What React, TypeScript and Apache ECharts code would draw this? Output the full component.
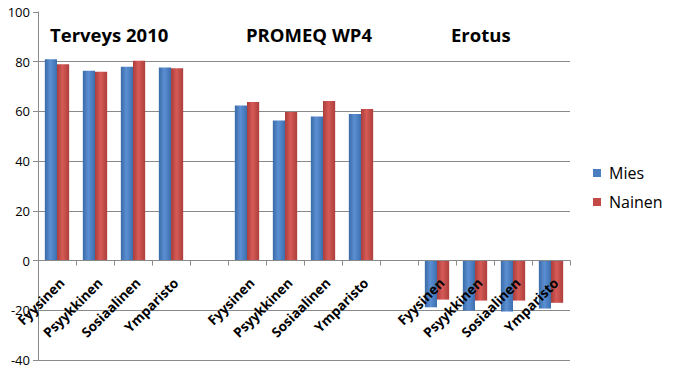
import React, { useEffect, useRef } from "react";
import * as echarts from "echarts";

const categories = ["Fyysinen", "Psyykkinen", "Sosiaalinen", "Ymparisto"];
const groupTitles = ["Terveys 2010", "PROMEQ WP4", "Erotus"];
const seriesNames = ["Mies", "Nainen"];
const terveysMies = [81, 76.4, 78, 77.7];
const terveysNainen = [79, 76, 80.4, 77.4];
const promeqMies = [62.4, 56.4, 58, 59];
const promeqNainen = [63.8, 59.8, 64.2, 61];
const erotusMies = [-18.8, -20.1, -20.5, -19.3];
const erotusNainen = [-15.7, -16.1, -16.1, -17];
const yTicks = [-40, -20, 0, 20, 40, 60, 80, 100];

const FONT = "'Open Sans', 'Noto Sans', sans-serif";
const GRID_TOP = 12;
const GRID_BOTTOM = 14;
const CHART_H = 374;

function joinGroups(groups: (number | string | null)[][], blank: number | string | null) {
  const out: (number | string | null)[] = [];
  groups.forEach((g, i) => {
    if (i > 0) out.push(blank);
    out.push(...g);
  });
  return out;
}

export default function App() {
  const ref = useRef<HTMLDivElement>(null);
  useEffect(() => {
    if (!ref.current) return;
    const chart = echarts.init(ref.current, undefined, { renderer: "svg" });
    const xData = joinGroups([categories, categories, categories], "");
    const miesData = joinGroups([terveysMies, promeqMies, erotusMies], null);
    const nainenData = joinGroups([terveysNainen, promeqNainen, erotusNainen], null);
    const yMin = yTicks[0];
    const yMax = yTicks[yTicks.length - 1];
    const plotH = CHART_H - GRID_TOP - GRID_BOTTOM;
    const zeroOffset = -((0 - yMin) / (yMax - yMin)) * plotH;
    const blueGrad = new echarts.graphic.LinearGradient(0, 0, 1, 0, [
      { offset: 0, color: "#3a6aa6" },
      { offset: 0.45, color: "#5b8fd3" },
      { offset: 1, color: "#3d6fae" },
    ]);
    const redGrad = new echarts.graphic.LinearGradient(0, 0, 1, 0, [
      { offset: 0, color: "#a83d3a" },
      { offset: 0.45, color: "#d65a56" },
      { offset: 1, color: "#ad3f3c" },
    ]);
    const gray = "#8a8a8a";
    const lineColors = yTicks.map((v, i) => (i === yTicks.length - 1 ? "rgba(0,0,0,0)" : gray));
    chart.setOption({
      animation: false,
      grid: { left: 38, right: 103, top: GRID_TOP, bottom: GRID_BOTTOM, containLabel: false, outerBoundsMode: "none" },
      legend: {
        orient: "vertical",
        left: 588,
        top: 160,
        itemWidth: 8,
        itemHeight: 8,
        itemGap: 13,
        icon: "rect",
        data: [
          { name: seriesNames[0], itemStyle: { color: "#4a7ec0" } },
          { name: seriesNames[1], itemStyle: { color: "#c44a47" } },
        ],
        textStyle: { fontFamily: FONT, fontSize: 16, color: "#000", padding: [0, 0, 0, 3] },
      },
      xAxis: {
        type: "category",
        data: xData,
        position: "bottom",
        offset: zeroOffset,
        z: 5,
        axisLine: { onZero: false, lineStyle: { color: gray } },
        axisTick: { show: true, length: 5, interval: 0, lineStyle: { color: gray } },
        axisLabel: {
          interval: 0,
          rotate: 45,
          margin: 15,
          verticalAlign: "top",
          fontFamily: FONT,
          fontSize: 13.5,
          fontWeight: "bold",
          color: "#000",
        },
      },
      yAxis: {
        type: "value",
        min: yMin,
        max: yMax,
        interval: 20,
        axisLine: { show: true, lineStyle: { color: gray } },
        axisTick: { show: true, length: 5, lineStyle: { color: gray } },
        axisLabel: { fontFamily: FONT, fontSize: 13, color: "#000", margin: 8 },
        splitLine: { show: true, lineStyle: { color: lineColors, width: 1 } },
      },
      series: [
        {
          name: seriesNames[0],
          type: "bar",
          data: miesData,
          barGap: "0%",
          barCategoryGap: "36%",
          itemStyle: { color: blueGrad },
        },
        {
          name: seriesNames[1],
          type: "bar",
          data: nainenData,
          barGap: "0%",
          barCategoryGap: "36%",
          itemStyle: { color: redGrad },
        },
      ],
      graphic: [
        { type: "text", left: 50, top: 25, style: { text: groupTitles[0], font: `bold 18.5px ${FONT}`, fill: "#000" } },
        { type: "text", left: 246, top: 25, style: { text: groupTitles[1], font: `bold 18.5px ${FONT}`, fill: "#000" } },
        { type: "text", left: 451, top: 25, style: { text: groupTitles[2], font: `bold 18.5px ${FONT}`, fill: "#000" } },
      ],
    });
    return () => chart.dispose();
  }, []);
  return <div ref={ref} style={{ width: 673, height: 374, position: "absolute", left: 0, top: 0 }} />;
}
